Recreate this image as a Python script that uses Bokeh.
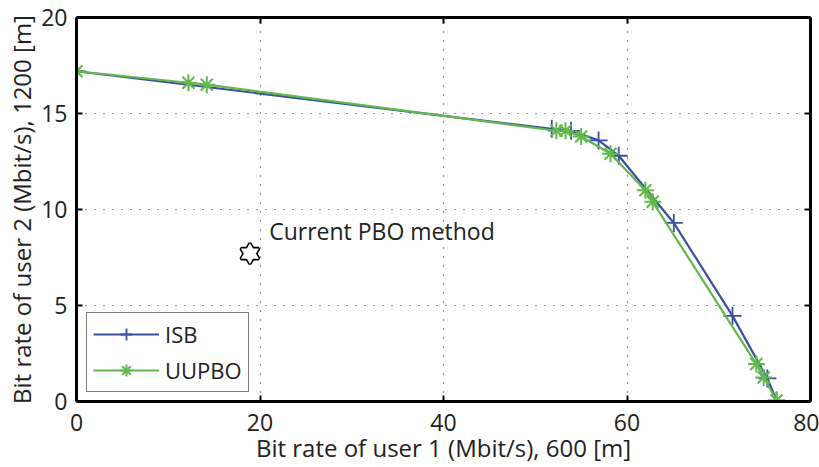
from bokeh.plotting import figure
from bokeh.models import LinearAxis, Legend, LegendItem, Range1d, Label
from bokeh.embed import file_html
from bokeh.resources import INLINE

FONT = "Open Sans"

isb_x = [0, 51.8, 53.9, 56.9, 59.1, 65.1, 71.5, 75.3, 76.3]
isb_y = [17.2, 14.2, 14.1, 13.6, 12.8, 9.3, 4.46, 1.2, 0.05]

uupbo_x = [0, 12.2, 14.2, 52.3, 53.3, 55.0, 58.2, 62.0, 62.8, 74.1, 74.9, 76.3]
uupbo_y = [17.2, 16.6, 16.5, 14.1, 14.1, 13.8, 12.9, 11.0, 10.4, 1.95, 1.25, 0.05]

pbo_x = [18.9]
pbo_y = [7.7]
pbo_label = "Current PBO method"

x_ticks = [0, 20, 40, 60, 80]
y_ticks = [0, 5, 10, 15, 20]

BLUE = "#3b4f9f"
GREEN = "#62b84c"
TXT = "#222222"

p = figure(width=819, height=467, output_backend="svg", toolbar_location=None,
           x_range=Range1d(0, 80), y_range=Range1d(0, 20),
           min_border_left=76, min_border_right=9, min_border_top=17, min_border_bottom=66)

p.xaxis.ticker = x_ticks
p.yaxis.ticker = y_ticks
for ax in [p.xaxis[0], p.yaxis[0]]:
    ax.axis_line_width = 3
    ax.major_tick_in = 6
    ax.major_tick_out = 0
    ax.minor_tick_line_color = None
    ax.major_label_text_font = FONT
    ax.major_label_text_font_size = "23px"
    ax.major_label_text_color = TXT
    ax.axis_label_text_font = FONT
    ax.axis_label_text_font_size = "24px"
    ax.axis_label_text_font_style = "normal"
    ax.axis_label_text_color = TXT
    ax.major_tick_line_width = 2
p.xaxis.axis_label = "Bit rate of user 1 (Mbit/s), 600 [m]"
p.yaxis.axis_label = "Bit rate of user 2 (Mbit/s), 1200 [m]"
p.xaxis.major_label_standoff = 12
p.xaxis.axis_label_standoff = -3
p.yaxis.major_label_standoff = 9
p.yaxis.axis_label_standoff = 0

for loc, tk in [("above", x_ticks), ("right", y_ticks)]:
    ax = LinearAxis(ticker=tk, axis_line_width=3, major_tick_in=6, major_tick_out=0,
                    major_tick_line_width=2, minor_tick_line_color=None,
                    major_label_text_font_size="1px", major_label_text_color=None,
                    major_label_standoff=0)
    p.add_layout(ax, loc)

p.outline_line_color = None
p.xgrid[0].ticker = x_ticks
p.ygrid[0].ticker = y_ticks
for g in [p.xgrid[0], p.ygrid[0]]:
    g.grid_line_color = "black"
    g.grid_line_dash = "1 8"
    g.grid_line_width = 1.2
    g.grid_line_alpha = 0.8

r_isb_l = p.line(isb_x, isb_y, line_color=BLUE, line_width=2.2)
r_isb_m = p.scatter(isb_x, isb_y, marker="cross", size=18, line_color=BLUE, line_width=1.8)
r_uu_l = p.line(uupbo_x, uupbo_y, line_color=GREEN, line_width=2.2)
r_uu_m = p.scatter(uupbo_x, uupbo_y, marker="asterisk", size=17, line_color=GREEN, line_width=2)

# hexagram: two triangle outlines, then fills on top to hide inner lines
p.scatter(pbo_x, pbo_y, marker="triangle", size=18, fill_color=None, line_color="black", line_width=3.2)
p.scatter(pbo_x, pbo_y, marker="inverted_triangle", size=18, fill_color=None, line_color="black", line_width=3.2)
p.scatter(pbo_x, pbo_y, marker="triangle", size=18, fill_color="white", line_color=None)
p.scatter(pbo_x, pbo_y, marker="inverted_triangle", size=18, fill_color="white", line_color=None)

p.add_layout(Label(x=21, y=8.86, text=pbo_label, text_font=FONT, text_font_size="23px",
                   text_baseline="middle", text_color=TXT))

legend = Legend(items=[LegendItem(label="ISB", renderers=[r_isb_l, r_isb_m]),
                       LegendItem(label="UUPBO", renderers=[r_uu_l, r_uu_m])],
                location=(10, 9), label_text_font=FONT, label_text_font_size="22px",
                label_text_color=TXT,
                border_line_color="black", border_line_width=1.5,
                padding=6, spacing=6, glyph_width=66, glyph_height=30, label_height=30,
                label_standoff=6, margin=0)
p.add_layout(legend)

open("out.html", "w").write(file_html(p, INLINE))
